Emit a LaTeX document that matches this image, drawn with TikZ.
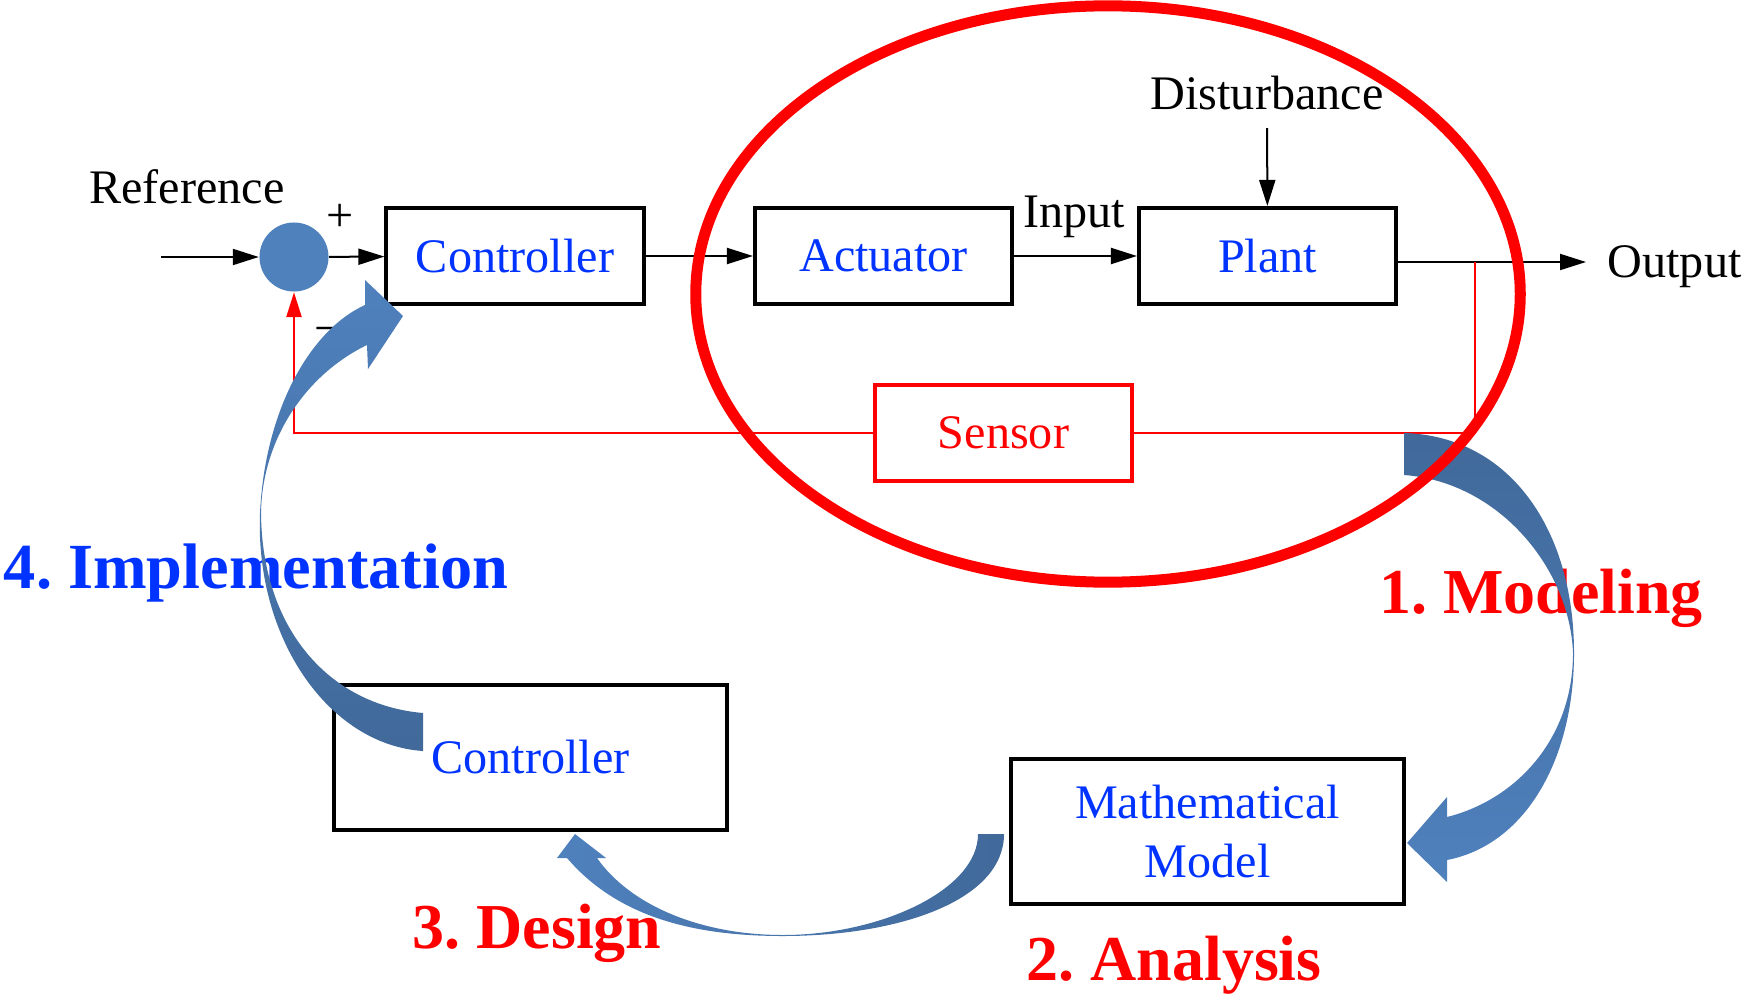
\documentclass[tikz,border=0pt]{standalone}
\usepackage{fontspec}
\setmainfont{Liberation Serif}
\usetikzlibrary{arrows.meta}
\definecolor{labelblue}{RGB}{0,51,255}
\definecolor{flowdark}{RGB}{65,105,154}
\definecolor{flowlight}{RGB}{79,129,189}
\frenchspacing
\def\txtfont{\fontsize{13.7}{16.5}\selectfont}
\def\phasefont{\fontsize{18.2}{21}\selectfont\bfseries}
\tikzset{
	block/.style={draw=black, line width=0.4mm, text=labelblue, font=\txtfont, minimum width=2.57cm, minimum height=0.96cm, inner sep=0pt},
	bigblock/.style={block, minimum width=3.93cm, minimum height=1.45cm, align=center},
	lbl/.style={font=\txtfont, inner sep=0pt},
	sig/.style={line width=0.2mm, -{Triangle[length=0.26cm, width=0.16cm]}},
	fb/.style={line width=0.25mm, color=red},
	phase/.style={font=\phasefont, anchor=base, inner sep=0pt}
}

\begin{document}
\begin{tikzpicture}[x=0.01cm, y=-0.01cm]
			%%%%% START %%%%%
			\useasboundingbox (0,0) rectangle (1746,994);
			
			% loop blocks
			\node[circle, fill=flowlight, minimum size=0.69cm, inner sep=0pt] (sum) at (294,257) {};
			\node[block] (ctrl) at (515,256) {Controller};
			\node[block] (act) at (883.5,256) {Actuator};
			\node[block] (plant) at (1267.5,256) {Plant};
			\node[block, draw=red, line width=0.35mm, text=red] (sensor) at (1003.5,433) {Sensor};
			
			\node[bigblock] (ctrlb) at (530.5,757.5) {Controller};
			\node[bigblock] (model) at (1207.5,831.5) {Mathematical\\Model};
			
			% texts
			\node[lbl, anchor=base] (reflbl) at (187,203) {Reference};
			\node[lbl] (plus) at (340,218) {+};
			\node[lbl, anchor=base] (minus) at (328,344) {−};
			\node[lbl, anchor=base] (inlbl) at (1074,228) {Input};
			\node[lbl, anchor=base] (dist) at (1267,110) {Disturbance};
			\node[lbl, anchor=base west] (outlbl) at (1607,277) {Output};
			
			\node[phase, text=red] (modeling) at (1541,613) {1. Modeling};
			\node[phase, text=red] (analysis) at (1174,980) {2. Analysis};
			\node[phase, text=red] (design) at (537,948) {3. Design};
			\node[phase, text=labelblue, font=\fontsize{18.3}{21}\selectfont\bfseries] (implem) at (256,588) {4. Implementation};
			
			% signals
			\coordinate (refin) at (161,257);
			\coordinate (outend) at (1586,262);
			\coordinate (tap) at (1475,262);
			\draw[sig] (refin) -- (sum);
			\draw[sig] (sum) -- (ctrl);
			\draw[sig] (ctrl) -- (act);
			\draw[sig] (act) -- (plant);
			\draw[sig, shorten <=0.17cm] (dist) -- (plant);
			\draw[sig] (plant.east |- outend) -- (outend);
			
			\draw[fb] (tap) |- (sensor.east);
			\draw[fb, -{Triangle[length=0.25cm, width=0.15cm]}] (sensor.west) -| (sum.south);
			
			% 1. modeling
			\shade[top color=flowdark, bottom color=flowlight] (1404,433) .. controls (1510,436) and (1574,530) .. (1574,653)
				.. controls (1574,760) and (1525,845) .. (1447,860) -- (1447,882) -- (1407,843) -- (1447,797) -- (1447,817)
				.. controls (1515,800) and (1573,740) .. (1573,653) .. controls (1570,570) and (1500,482) .. (1404,475) -- cycle;
			
			% 3. design
			\shade[left color=flowlight, right color=flowdark] (1004,834) .. controls (1004,900) and (900,936) .. (783,936)
				.. controls (700,936) and (620,920) .. (567,858) -- (557,858) -- (575,834) -- (606,858) -- (597,858)
				.. controls (630,905) and (700,935) .. (783,935) .. controls (880,935) and (978,890) .. (978,834) -- cycle;
			
			% 4. implementation
			\shade[top color=flowlight, bottom color=flowdark] (423,713) -- (423,751) .. controls (330,745) and (255,640) .. (260,513)
				.. controls (265,410) and (310,330) .. (365,305) -- (365,280) -- (403,316) -- (368,369) -- (367,345)
				.. controls (305,375) and (262,440) .. (261,513) .. controls (262,630) and (330,705) .. (423,713) -- cycle;
			
			\draw[line width=1.1mm, color=red] (1108,294) ellipse [x radius=4.12cm, y radius=2.88cm];
			
			%%%%% END %%%%%
\end{tikzpicture}
\end{document}
